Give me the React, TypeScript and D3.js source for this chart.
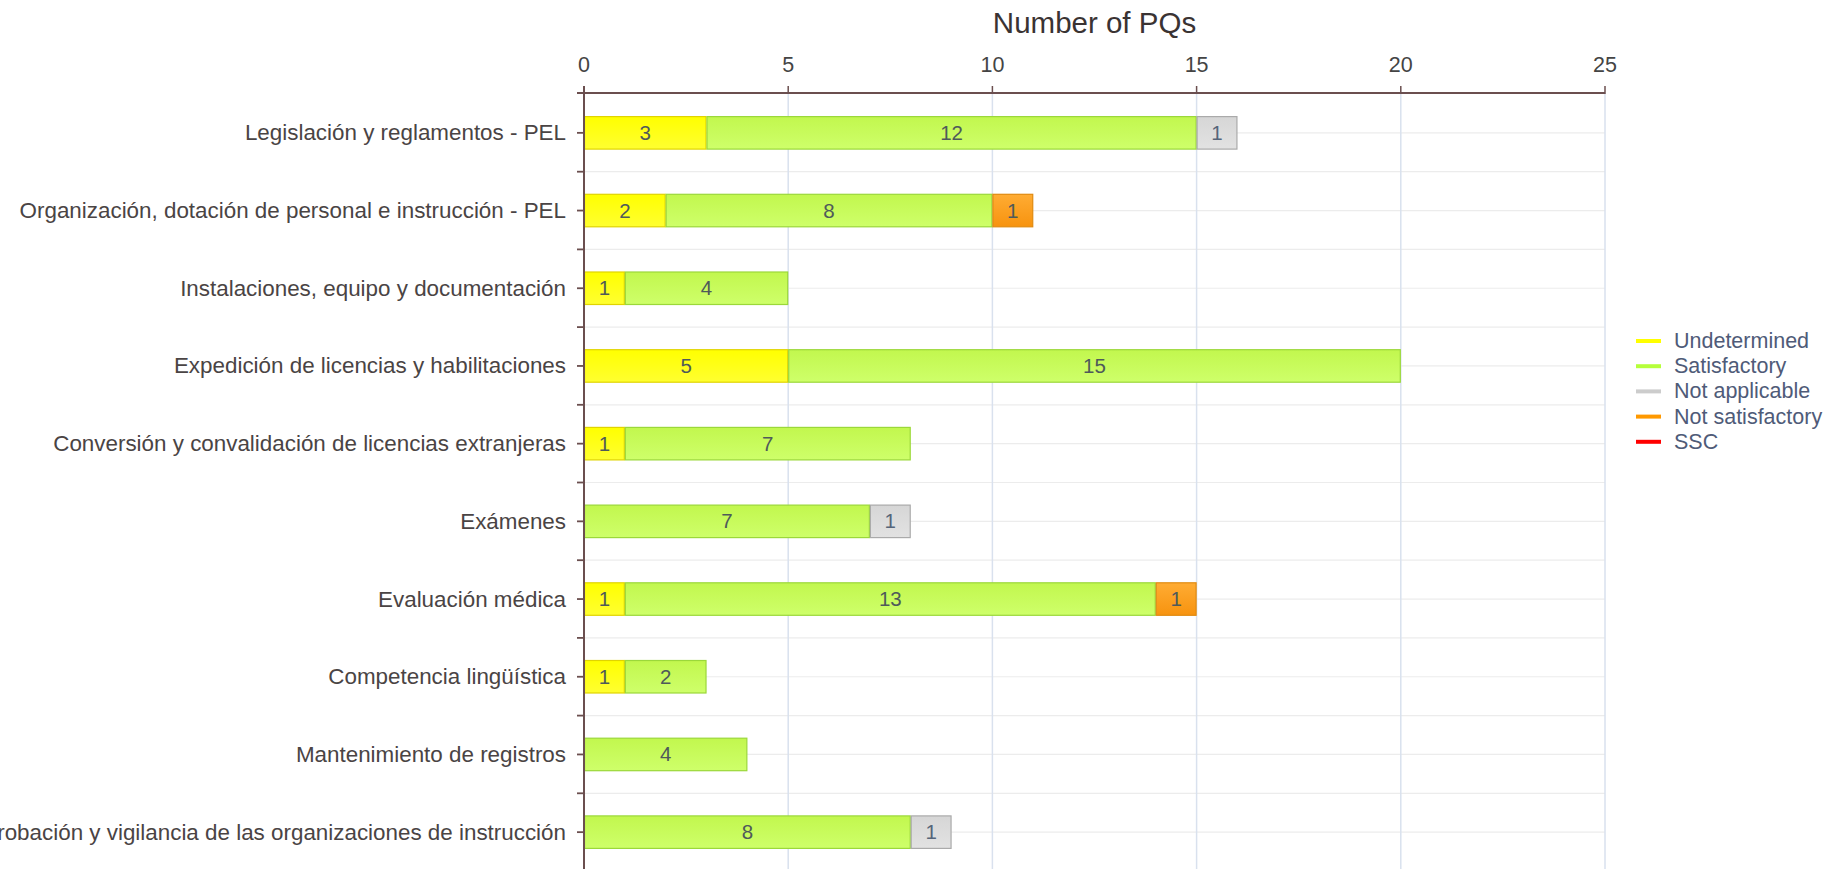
import React from "react";
import * as d3 from "d3";

const categories = [
  "Legislación y reglamentos - PEL",
  "Organización, dotación de personal e instrucción - PEL",
  "Instalaciones, equipo y documentación",
  "Expedición de licencias y habilitaciones",
  "Conversión y convalidación de licencias extranjeras",
  "Exámenes",
  "Evaluación médica",
  "Competencia lingüística",
  "Mantenimiento de registros",
  "Aprobación y vigilancia de las organizaciones de instrucción",
];

const undetermined = [3, 2, 1, 5, 1, 0, 1, 1, 0, 0];
const satisfactory = [12, 8, 4, 15, 7, 7, 13, 2, 4, 8];
const notApplicable = [1, 0, 0, 0, 0, 1, 0, 0, 0, 1];
const notSatisfactory = [0, 1, 0, 0, 0, 0, 1, 0, 0, 0];
const ssc = [0, 0, 0, 0, 0, 0, 0, 0, 0, 0];

const seriesNames = ["Undetermined", "Satisfactory", "Not applicable", "Not satisfactory", "SSC"];
const xTicks = [0, 5, 10, 15, 20, 25];
const axisTitle = "Number of PQs";

const W = 1845;
const H = 869;
const FONT = "'Liberation Sans', Arial, sans-serif";

const seriesStyle: Record<string, { top: string; bottom: string; stroke: string; legend: string }> = {
  Undetermined: { top: "#ffff00", bottom: "#ffff30", stroke: "#e0d400", legend: "#ffff00" },
  Satisfactory: { top: "#c2f74e", bottom: "#ceff6a", stroke: "#9bd83a", legend: "#b6ff3a" },
  "Not applicable": { top: "#d6d6d6", bottom: "#e2e2e2", stroke: "#aaaaaa", legend: "#cccccc" },
  "Not satisfactory": { top: "#ffac33", bottom: "#f7930f", stroke: "#e08a10", legend: "#ff9900" },
  SSC: { top: "#ff0000", bottom: "#ff2020", stroke: "#cc0000", legend: "#ff0000" },
};

export default function App() {
  const rows = categories.map((c, i) => ({
    category: c,
    Undetermined: undetermined[i],
    Satisfactory: satisfactory[i],
    "Not applicable": notApplicable[i],
    "Not satisfactory": notSatisfactory[i],
    SSC: ssc[i],
  }));
  const stacked = d3.stack<any>().keys(seriesNames)(rows);

  const x = d3.scaleLinear().domain([0, 25]).range([584, 1605]);
  const y = d3.scaleBand().domain(categories).range([94, 94 + 77.7 * categories.length]).padding(0);
  const bw = y.bandwidth();
  const barH = 32.5;

  const axisColor = "#6b4f4f";
  const plotTop = 94;
  const plotBottom = H + 10;

  const hGrid: number[] = [];
  categories.forEach((c) => {
    const y0 = y(c)!;
    hGrid.push(y0 + bw / 2);
    hGrid.push(y0 + bw);
  });
  const yTicks: number[] = [];
  categories.forEach((c, i) => {
    const y0 = y(c)!;
    if (i > 0) yTicks.push(y0);
    yTicks.push(y0 + bw / 2);
  });
  yTicks.push(y(categories[categories.length - 1])! + bw);

  return (
    <svg
      width={W}
      height={H}
      style={{ position: "absolute", left: 0, top: 0, background: "#fff" }}
      fontFamily={FONT}
    >
      <defs>
        {seriesNames.map((s, i) => (
          <linearGradient key={s} id={`g${i}`} x1="0" y1="0" x2="0" y2="1">
            <stop offset="0%" stopColor={seriesStyle[s].top} />
            <stop offset="100%" stopColor={seriesStyle[s].bottom} />
          </linearGradient>
        ))}
      </defs>
      <rect x={0} y={0} width={W} height={H} fill="#fff" />

      {hGrid.map((g, i) => (
        <line key={"h" + i} x1={584} x2={1605} y1={g} y2={g} stroke="#ececec" strokeWidth={1.2} />
      ))}
      {xTicks.filter((t) => t > 0).map((t) => (
        <line key={"v" + t} x1={x(t)} x2={x(t)} y1={plotTop} y2={plotBottom} stroke="#d9e1ee" strokeWidth={1.5} />
      ))}

      {stacked.map((layer, si) =>
        layer.map((d, i) => {
          const v = d[1] - d[0];
          if (v <= 0) return null;
          const cy = y(categories[i])! + bw / 2;
          const x0 = x(d[0]);
          const x1 = x(d[1]);
          return (
            <g key={layer.key + i}>
              <rect
                x={x0 + 0.5}
                y={cy - barH / 2}
                width={x1 - x0 - 1}
                height={barH}
                fill={`url(#g${si})`}
                stroke={seriesStyle[layer.key].stroke}
                strokeWidth={1.2}
              />
              <text
                x={(x0 + x1) / 2}
                y={cy + 7}
                textAnchor="middle"
                fontSize={20.5}
                fill={layer.key === "Not applicable" ? "#56657a" : "#4f5a5a"}
              >
                {v}
              </text>
            </g>
          );
        })
      )}

      <line x1={577} x2={1605} y1={93} y2={93} stroke={axisColor} strokeWidth={2} />
      {xTicks.map((t) => (
        <g key={"t" + t}>
          <line x1={x(t)} x2={x(t)} y1={86} y2={94} stroke={axisColor} strokeWidth={1.5} />
          <text x={x(t)} y={72} textAnchor="middle" fontSize={21.5} fill="#444">
            {t}
          </text>
        </g>
      ))}
      <text x={(x(0) + x(25)) / 2} y={33} textAnchor="middle" fontSize={29.5} fill="#3a3333">
        {axisTitle}
      </text>

      <line x1={584} x2={584} y1={86} y2={plotBottom} stroke={axisColor} strokeWidth={2} />
      {yTicks.map((t, i) => (
        <line key={"yt" + i} x1={577} x2={584} y1={t} y2={t} stroke={axisColor} strokeWidth={1.8} />
      ))}
      {categories.map((c) => (
        <text
          key={c}
          x={566}
          y={y(c)! + bw / 2 + 7.5}
          textAnchor="end"
          fontSize={22.4}
          fill="#4a4444"
        >
          {c}
        </text>
      ))}

      {seriesNames.map((s, i) => {
        const ly = 341 + i * 25.2;
        return (
          <g key={"l" + s}>
            <line x1={1636} x2={1661} y1={ly} y2={ly} stroke={seriesStyle[s].legend} strokeWidth={4} />
            <text x={1674} y={ly + 7} fontSize={21.5} fill="#4f5b78">
              {s}
            </text>
          </g>
        );
      })}
    </svg>
  );
}
